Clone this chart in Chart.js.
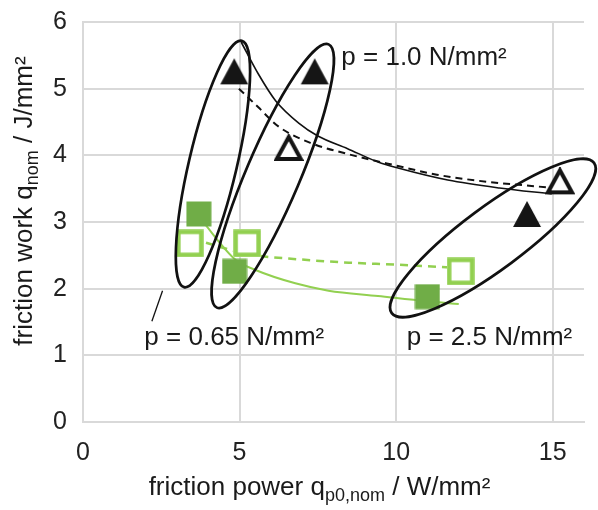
<!DOCTYPE html>
<html>
<head>
<meta charset="utf-8">
<script src="https://cdn.jsdelivr.net/npm/chart.js@4"></script>
<style>
  html, body { margin: 0; padding: 0; background: #fff; }
  #c1 { display: block; }
</style>
</head>
<body>
<canvas id="c1" width="598" height="510"></canvas>
<script>
// tick labels
const xTicks = [0, 5, 10, 15];
const yTicks = [0, 1, 2, 3, 4, 5, 6];

// markers
const triFillX = [4.83, 7.40, 14.18];
const triFillY = [5.26, 5.26, 3.12];
const triOpenX = [6.57, 15.23];
const triOpenY = [4.11, 3.61];
const sqFillX = [3.70, 4.84, 11.0];
const sqFillY = [3.12, 2.26, 1.88];
const sqOpenX = [3.41, 5.24, 12.06];
const sqOpenY = [2.68, 2.68, 2.26];

// trend curves (estimated points along them)
const blackSolidX = [5.05, 5.6, 6.15, 6.9, 7.5, 8.45, 9.42, 10.06, 11.65, 13.3, 14.97];
const blackSolidY = [5.70, 5.22, 4.82, 4.48, 4.29, 4.10, 3.90, 3.81, 3.63, 3.51, 3.42];
const blackDashX = [4.98, 5.6, 6.25, 7.3, 8.37, 10.06, 11.3, 12.6, 14.8];
const blackDashY = [5.00, 4.72, 4.43, 4.18, 4.03, 3.84, 3.71, 3.62, 3.52];
const greenSolidX = [3.75, 4.88, 5.51, 6.78, 7.84, 9.42, 11.0, 12.0];
const greenSolidY = [3.05, 2.43, 2.28, 2.08, 1.97, 1.89, 1.81, 1.77];
const greenDashX = [3.5, 4.88, 5.5, 6.89, 8.5, 10.06, 12.0];
const greenDashY = [2.75, 2.56, 2.50, 2.44, 2.39, 2.36, 2.31];

// annotation texts
const labelTexts = ['p = 1.0 N/mm²', 'p = 0.65 N/mm²', 'p = 2.5 N/mm²'];
const labelX = [8.25, 1.96, 10.34];
const labelY = [5.36, 1.15, 1.16];

const pts = (xs, ys) => xs.map((x, i) => ({ x: x, y: ys[i] }));

function mk(w, h, draw) {
    let c = document.createElement('canvas');
    c.width = w; c.height = h;
    draw(c.getContext('2d'), w, h);
    return c;
}
let triFill = mk(30, 28, (g, w, h) => {
    g.fillStyle = '#151515';
    g.beginPath(); g.moveTo(w / 2, 1); g.lineTo(w - 1, h - 1); g.lineTo(1, h - 1); g.closePath(); g.fill();
});
let triOpen = mk(30, 28, (g, w, h) => {
    g.fillStyle = '#fff'; g.strokeStyle = '#151515'; g.lineWidth = 4; g.lineJoin = 'miter';
    g.beginPath(); g.moveTo(w / 2, 3); g.lineTo(w - 3, h - 3); g.lineTo(3, h - 3); g.closePath(); g.fill(); g.stroke();
});
let sqFill = mk(26, 26, (g, w, h) => {
    g.fillStyle = '#70ad47'; g.fillRect(0.5, 0.5, w - 1, h - 1);
});
let sqOpen = mk(28, 28, (g, w, h) => {
    g.fillStyle = '#fff'; g.fillRect(0, 0, w, h);
    g.strokeStyle = '#92d050'; g.lineWidth = 4.5; g.strokeRect(2.5, 2.5, w - 5, h - 5);
});

const sans = '"Liberation Sans", Arial, sans-serif';

function richText(ctx, parts, x, y) {
    let w = 0;
    parts.forEach(p => { ctx.font = (p.s ? 18 : 26) + 'px ' + sans; w += ctx.measureText(p.t).width; });
    let cx = x - w / 2;
    parts.forEach(p => {
        ctx.font = (p.s ? 18 : 26) + 'px ' + sans;
        ctx.fillText(p.t, cx, y + (p.s ? 6 : 0));
        cx += ctx.measureText(p.t).width;
    });
}

const overlay = {
    id: 'overlay',
    afterDatasetsDraw(chart) {
        let ctx = chart.ctx;
        let xs = chart.scales.x, ys = chart.scales.y;
        ctx.save();
        // ellipses round the groups
        let ells = [
            { cx: 4.15, cy: 3.87, rx: 24, ry: 126.5, rot: 13.2 },
            { cx: 6.06, cy: 3.69, rx: 27, ry: 143, rot: 23 },
            { cx: 13.09, cy: 2.76, rx: 126, ry: 31, rot: -36.6 },
        ];
        ctx.strokeStyle = '#111';
        ctx.lineWidth = 2.7;
        ells.forEach(e => {
            ctx.beginPath();
            ctx.ellipse(xs.getPixelForValue(e.cx), ys.getPixelForValue(e.cy), e.rx, e.ry, e.rot * Math.PI / 180, 0, Math.PI * 2);
            ctx.stroke();
        });
        // leader line
        ctx.lineWidth = 1.3;
        ctx.beginPath();
        ctx.moveTo(xs.getPixelForValue(2.54), ys.getPixelForValue(1.97));
        ctx.lineTo(xs.getPixelForValue(2.20), ys.getPixelForValue(1.51));
        ctx.stroke();
        // labels
        ctx.fillStyle = '#1a1a1a';
        ctx.font = '26px ' + sans;
        ctx.textAlign = 'left';
        ctx.textBaseline = 'alphabetic';
        labelTexts.forEach((t, i) => {
            ctx.fillText(t, xs.getPixelForValue(labelX[i]), ys.getPixelForValue(labelY[i]));
        });
        // axis titles
        let ca = chart.chartArea;
        richText(ctx, [{ t: 'friction power q' }, { t: 'p0,nom', s: true }, { t: ' / W/mm²' }], (ca.left + ca.right) / 2 - 14, 495);
        ctx.save();
        ctx.translate(32, (ca.top + ca.bottom) / 2 - 21);
        ctx.rotate(-Math.PI / 2);
        richText(ctx, [{ t: 'friction work q' }, { t: 'nom', s: true }, { t: ' / J/mm²' }], 0, 0);
        ctx.restore();
        ctx.restore();
    }
};

let c1 = document.querySelector('#c1');
let lineDs = (xs, ys, color, w, dash) => ({
    data: pts(xs, ys), showLine: true, borderColor: color, borderWidth: w, borderDash: dash,
    pointRadius: 0, cubicInterpolationMode: 'monotone', order: 10,
});
let markDs = (xs, ys, img) => ({
    data: pts(xs, ys), showLine: false, pointStyle: img, pointRadius: 13, order: 1,
});

let opts1 = {
    type: 'scatter',
    data: {
        datasets: [
            lineDs(blackSolidX, blackSolidY, '#111', 1.6, []),
            lineDs(blackDashX, blackDashY, '#111', 2, [7, 5]),
            lineDs(greenSolidX, greenSolidY, '#92d050', 2, []),
            lineDs(greenDashX, greenDashY, '#92d050', 2.5, [8, 6]),
            markDs(sqOpenX, sqOpenY, sqOpen),
            markDs(sqFillX, sqFillY, sqFill),
            markDs(triOpenX, triOpenY, triOpen),
            markDs(triFillX, triFillY, triFill),
        ],
    },
    options: {
        responsive: false,
        animation: false,
        events: [],
        layout: { padding: { left: 0, right: 11, top: 22, bottom: 0 } },
        plugins: { legend: { display: false }, tooltip: { enabled: false } },
        scales: {
            x: {
                type: 'linear', min: 0, max: 16,
                afterBuildTicks: s => { s.ticks = xTicks.map(v => ({ value: v })); },
                afterFit: s => { s.height = 88; s.paddingLeft = 0; s.paddingRight = 0; },
                grid: { color: '#d9d9d9', lineWidth: 2, drawTicks: false },
                border: { color: '#d9d9d9', width: 2 },
                ticks: { color: '#222', font: { family: sans, size: 25 }, padding: 16, maxRotation: 0 },
            },
            y: {
                type: 'linear', min: 0, max: 6,
                afterBuildTicks: s => { s.ticks = yTicks.map(v => ({ value: v })); },
                afterFit: s => { s.width = 83; s.paddingTop = 0; s.paddingBottom = 0; },
                grid: { color: '#d9d9d9', lineWidth: 2, drawTicks: false },
                border: { color: '#d9d9d9', width: 2 },
                ticks: { color: '#222', font: { family: sans, size: 25 }, padding: 16 },
            },
        },
    },
    plugins: [overlay],
};
let chart1 = new Chart(c1, opts1);
</script>
</body>
</html>
